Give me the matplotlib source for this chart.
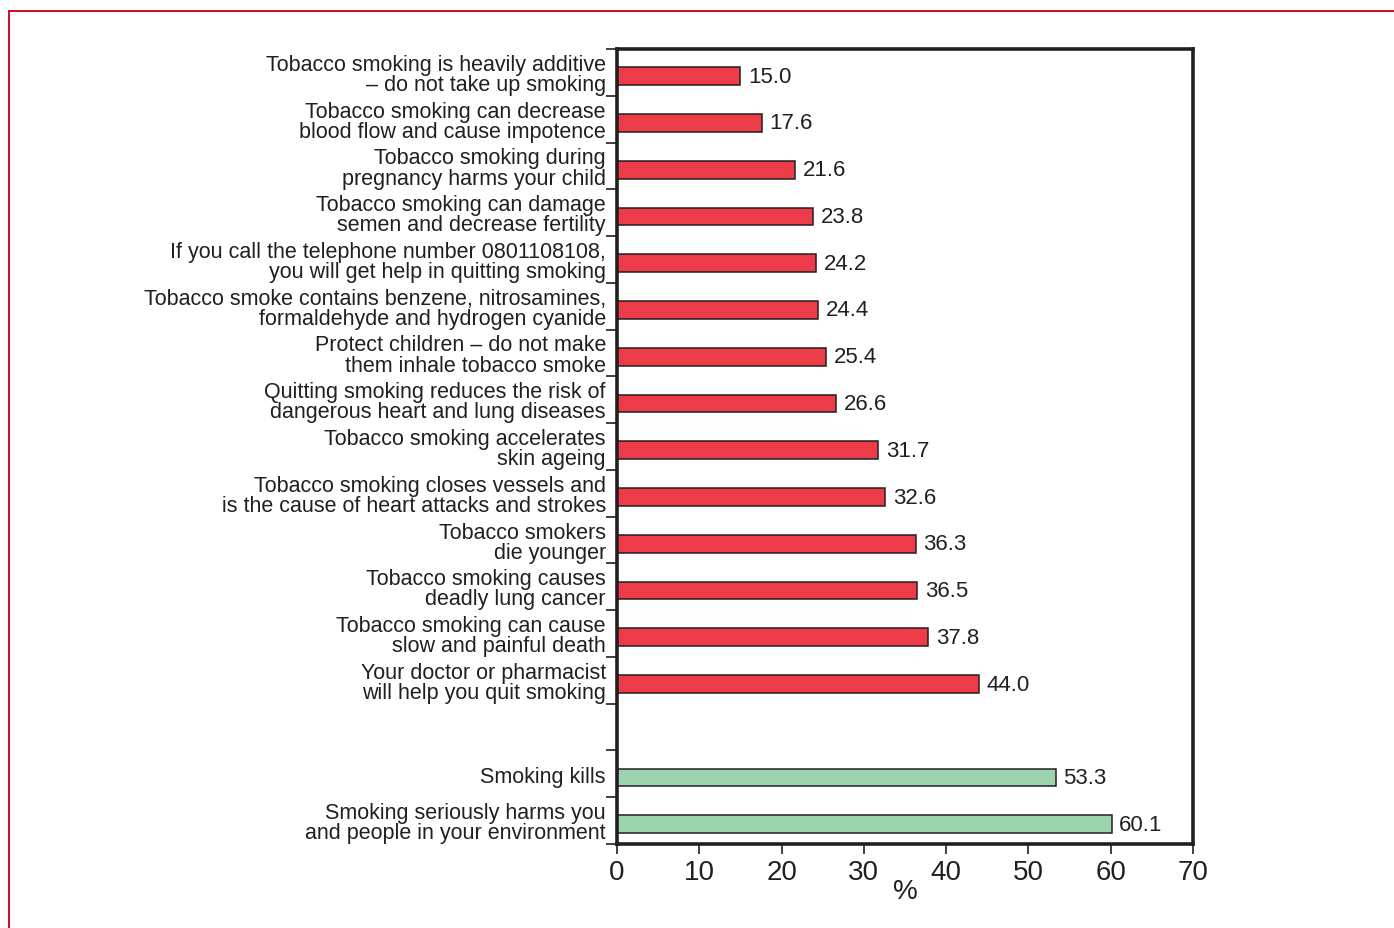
import matplotlib.pyplot as plt
from matplotlib.lines import Line2D

# Mensagens (de cima para baixo)
mensagens_texto = [
    "Tobacco smoking is heavily additive\n\u2013 do not take up smoking",
    "Tobacco smoking can decrease\nblood flow and cause impotence",
    "Tobacco smoking during\npregnancy harms your child",
    "Tobacco smoking can damage\nsemen and decrease fertility",
    "If you call the telephone number 0801108108,\nyou will get help in quitting smoking",
    "Tobacco smoke contains benzene, nitrosamines,\nformaldehyde and hydrogen cyanide",
    "Protect children \u2013 do not make\nthem inhale tobacco smoke",
    "Quitting smoking reduces the risk of\ndangerous heart and lung diseases",
    "Tobacco smoking accelerates\nskin ageing",
    "Tobacco smoking closes vessels and\nis the cause of heart attacks and strokes",
    "Tobacco smokers\ndie younger",
    "Tobacco smoking causes\ndeadly lung cancer",
    "Tobacco smoking can cause\nslow and painful death",
    "Your doctor or pharmacist\nwill help you quit smoking",
]
valores_texto = [15.0, 17.6, 21.6, 23.8, 24.2, 24.4, 25.4, 26.6, 31.7, 32.6, 36.3, 36.5, 37.8, 44.0]

mensagens_gerais = [
    "Smoking kills",
    "Smoking seriously harms you\nand people in your environment",
]
valores_gerais = [53.3, 60.1]

x_ticks = [0, 10, 20, 30, 40, 50, 60, 70]

plt.rcParams['font.family'] = ['Liberation Sans', 'DejaVu Sans']

cor_vermelha = '#ee3b4a'
cor_verde = '#9bd3ae'
cor_eixo = '#231f20'

fig = plt.figure(figsize=(13.94, 9.29), dpi=100)
ax = fig.add_axes([617 / 1394, 1 - 845 / 929, (1193 - 617) / 1394, (845 - 50) / 929])

# Posições: 14 mensagens, uma lacuna, 2 mensagens gerais
pos_texto = list(range(len(valores_texto)))
pos_gerais = [len(valores_texto) + 1 + i for i in range(len(valores_gerais))]
n_slots = len(valores_texto) + 1 + len(valores_gerais)

deslocamento = 0.08
ax.barh([p + deslocamento for p in pos_texto], valores_texto, height=0.38,
        color=cor_vermelha, edgecolor=cor_eixo, linewidth=1.1)
ax.barh([p + deslocamento for p in pos_gerais], valores_gerais, height=0.38,
        color=cor_verde, edgecolor=cor_eixo, linewidth=1.1)

for p, v in zip(pos_texto + pos_gerais, valores_texto + valores_gerais):
    ax.text(v + 0.95, p + deslocamento, f"{v:.1f}", va='center', ha='left',
            fontsize=16, color=cor_eixo)

ax.set_ylim(n_slots - 0.5, -0.5)
ax.set_xlim(0, 70)

# Rótulos no centro de cada slot, marcas nas divisões
ax.set_yticks(pos_texto + pos_gerais)
ax.set_yticklabels(mensagens_texto + mensagens_gerais, fontsize=15.5,
                   linespacing=0.95, color=cor_eixo)
ax.tick_params(axis='y', which='major', length=0, pad=8)
ax.set_yticks([i - 0.5 for i in range(n_slots + 1)], minor=True)
ax.tick_params(axis='y', which='minor', length=8, width=1.2, color=cor_eixo, direction='out')

ax.set_xticks(x_ticks)
ax.tick_params(axis='x', which='major', length=7, width=1.2, color=cor_eixo,
               labelsize=20, labelcolor=cor_eixo, pad=4)
ax.set_xlabel('%', fontsize=20, color=cor_eixo, labelpad=-5)

for lado in ax.spines.values():
    lado.set_linewidth(2.6)
    lado.set_color(cor_eixo)

# Moldura vermelha (topo e esquerda)
fig.add_artist(Line2D([9 / 1394, 1], [1 - 12 / 929, 1 - 12 / 929], color='#cc0a1e', linewidth=1.4,
                      transform=fig.transFigure))
fig.add_artist(Line2D([9 / 1394, 9 / 1394], [0, 1 - 12 / 929], color='#cc0a1e', linewidth=1.4,
                      transform=fig.transFigure))

plt.savefig('out.png', dpi=100)
